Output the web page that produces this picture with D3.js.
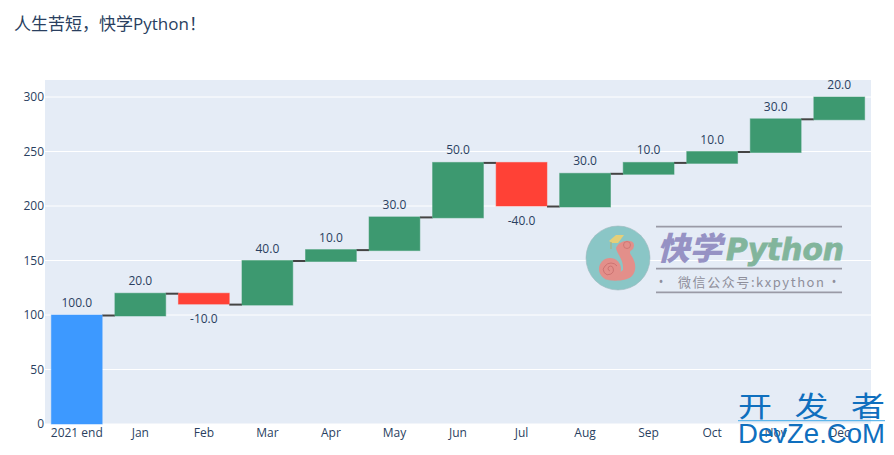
<!DOCTYPE html>
<html><head><meta charset="utf-8">
<script src="https://cdn.jsdelivr.net/npm/d3@7"></script>
<style>html,body{margin:0;padding:0;background:#fff}svg{display:block}text{font-family:"Open Sans","Noto Sans CJK SC",sans-serif}</style>
</head><body><svg id="c" width="894" height="455"></svg>
<script>
const titleText = "人生苦短\uFF0C快学Python\uFF01";
const categories = ["2021 end","Jan","Feb","Mar","Apr","May","Jun","Jul","Aug","Sep","Oct","Nov","Dec"];
const deltas = [100,20,-10,40,10,30,50,-40,30,10,10,30,20];
const yTicks = [0,50,100,150,200,250,300];
const colors = {total:"#3d99ff", up:"#3d9970", down:"#ff4136", text:"#2a3f5f", bg:"#e5ecf6"};

const svg = d3.select("#c");
const m = {l:45, r:871, t:80, b:424};
const x = d3.scaleBand().domain(categories).range([m.l,m.r]).paddingInner(0.2).paddingOuter(0.1);
const y = d3.scaleLinear().domain([0,315.6]).range([m.b,m.t]);

let run = 0;
const rows = categories.map((c,i)=>{const s=run; run+=deltas[i]; return {c,d:deltas[i],s:i?s:0,e:run,i};});

svg.append("text").attr("x",14).attr("y",30).attr("font-size",17).attr("fill",colors.text).text(titleText);
svg.append("rect").attr("x",m.l).attr("y",m.t).attr("width",m.r-m.l).attr("height",m.b-m.t).attr("fill",colors.bg);

const yAxis = svg.append("g").attr("transform",`translate(${m.l},0)`)
  .call(d3.axisLeft(y).tickValues(yTicks).tickSize(0).tickPadding(0));
yAxis.select(".domain").remove();
yAxis.selectAll("text").attr("font-size",12).attr("fill",colors.text).attr("x",-1).style("font-family",'"Open Sans",sans-serif');
svg.append("g").selectAll("line").data(yTicks).join("line")
  .attr("x1",m.l).attr("x2",m.r).attr("y1",d=>y(d)).attr("y2",d=>y(d)).attr("stroke","#fff").attr("stroke-width",1);

const xAxis = svg.append("g").attr("transform",`translate(0,${m.b})`)
  .call(d3.axisBottom(x).tickSize(0).tickPadding(4));
xAxis.select(".domain").remove();
xAxis.selectAll("text").attr("font-size",12).attr("fill",colors.text).style("font-family",'"Open Sans",sans-serif');

svg.append("g").selectAll("line").data(rows.slice(0,-1)).join("line")
  .attr("x1",d=>x(d.c)+x.bandwidth()).attr("x2",d=>x(categories[d.i+1]))
  .attr("y1",d=>y(d.e)+0.5).attr("y2",d=>y(d.e)+0.5).attr("stroke","#444").attr("stroke-width",2);

const fillOf = d=> d.i===0?colors.total:(d.d>0?colors.up:colors.down);
svg.append("g").selectAll("rect").data(rows).join("rect")
  .attr("x",d=>x(d.c)).attr("width",x.bandwidth())
  .attr("y",d=>y(Math.max(d.s,d.e)))
  .attr("height",d=>Math.abs(y(d.s)-y(d.e))+((d.i>0&&d.d>0)?1:0))
  .attr("fill",fillOf).attr("stroke",fillOf).attr("stroke-opacity",0.5).attr("stroke-width",1);

svg.append("g").selectAll("text").data(rows).join("text")
  .attr("x",d=>x(d.c)+x.bandwidth()/2)
  .attr("y",d=>d.d>=0?y(d.e)-8:y(d.e)+18.5)
  .attr("text-anchor","middle").attr("font-size",12).attr("fill",colors.text)
  .text(d=>d.d.toFixed(1));

// watermark logo
const wm = svg.append("g");
wm.append("circle").attr("cx",618).attr("cy",258).attr("r",32).attr("fill","#8ac6c6").attr("stroke","#9fb8bd").attr("stroke-width",0.6);
wm.append("path").attr("d","M604 279C612 282 628 281 632 276C637 270 636 262 631 255C629 252 630 251 633 249C635 245 634 241 629 241C624 240 618 243 616 248C617 254 624 260 623 270L610 280Z").attr("fill","#e38f8a");
wm.append("circle").attr("cx",610).attr("cy",269).attr("r",11).attr("fill","#e38f8a");
wm.append("path").attr("d","M610 271a2.5 2.5 0 1 1 3 -3a5 5 0 1 1 -8 -2a7.5 7.5 0 0 1 12 0").attr("fill","none").attr("stroke","#c9716f").attr("stroke-width",0.9);
wm.append("circle").attr("cx",627).attr("cy",245).attr("r",3.5).attr("fill","none").attr("stroke","#c9716f").attr("stroke-width",0.8);
wm.append("path").attr("d","M609 241L616 235L624 235L618 243L612 243Z").attr("fill","#e5cf78");
wm.append("line").attr("x1",611).attr("x2",611).attr("y1",242).attr("y2",249).attr("stroke","#b7a860").attr("stroke-width",0.8);
[226.7,268.7,292.3].forEach(v=>wm.append("line").attr("x1",656).attr("x2",842).attr("y1",v).attr("y2",v).attr("stroke","#9a9aa6").attr("stroke-width",1.7));
wm.append("text").attr("x",657).attr("y",260).attr("font-size",32).attr("font-weight",900).attr("font-style","italic").attr("fill","#9692c4").attr("textLength",65).attr("lengthAdjust","spacingAndGlyphs").style("font-family",'"Noto Sans CJK SC"').text("快学");
wm.append("text").attr("x",726).attr("y",260).attr("font-size",31).attr("font-weight",700).attr("font-style","italic").attr("fill","#82b59c").attr("stroke","#82b59c").attr("stroke-width",0.8).attr("textLength",118).attr("lengthAdjust","spacingAndGlyphs").style("font-family",'"DejaVu Sans"').text("Python");
wm.append("text").attr("x",661).attr("y",286).attr("font-size",12).attr("fill","#8f8f9b").attr("text-anchor","middle").style("font-family",'"Noto Sans"').text("•");
wm.append("text").attr("x",834).attr("y",286).attr("font-size",12).attr("fill","#8f8f9b").attr("text-anchor","middle").style("font-family",'"Noto Sans"').text("•");
wm.append("text").attr("x",678).attr("y",287).attr("font-size",13).attr("fill","#8f8f9b").attr("textLength",146).style("font-family",'"Noto Sans CJK SC"').text("微信公众号:kxpython");

// site watermark
const site = svg.append("g").attr("fill","#0f6fbe");
site.append("text").attr("transform","translate(738,417) scale(1,0.85)").attr("font-size",34).attr("textLength",147).style("font-family",'"Noto Sans CJK SC"').text("开发者");
site.append("line").attr("x1",738).attr("x2",885).attr("y1",420.7).attr("y2",420.7).attr("stroke","#3fa9e8").attr("stroke-width",1);
site.append("text").attr("x",738).attr("y",443).attr("font-size",28).attr("textLength",147).attr("lengthAdjust","spacingAndGlyphs").style("font-family",'"Liberation Sans"').text("DevZe.CoM");
</script></body></html>
